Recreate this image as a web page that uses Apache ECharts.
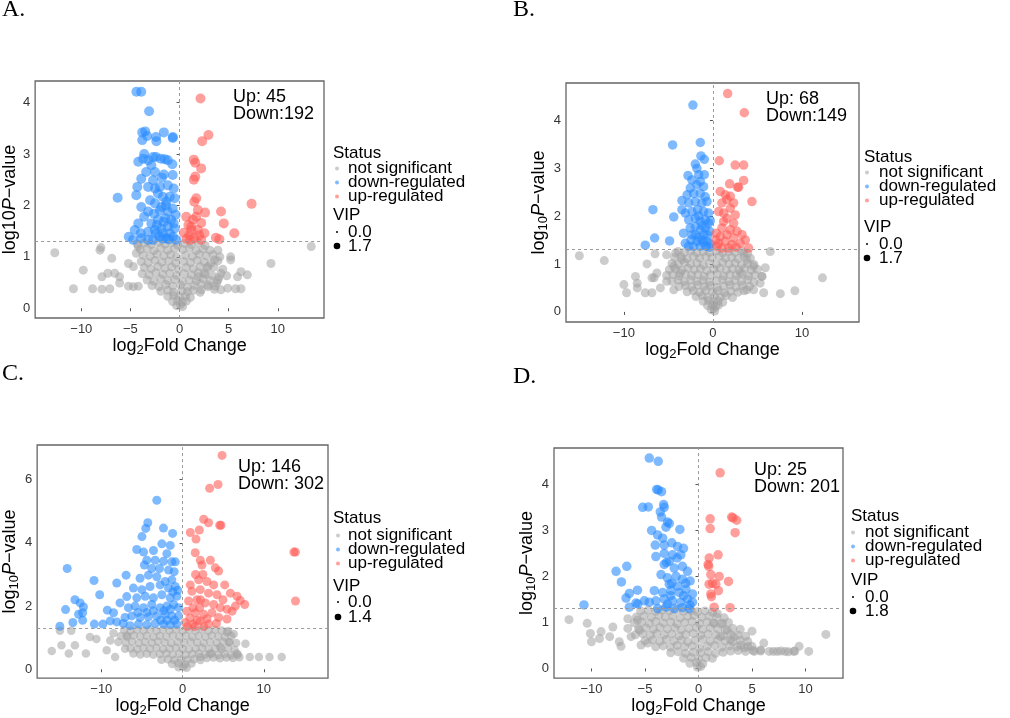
<!DOCTYPE html>
<html><head><meta charset="utf-8">
<script src="https://cdn.jsdelivr.net/npm/echarts@6/dist/echarts.min.js"></script>
<style>html,body{margin:0;padding:0;background:#fff}#c{width:1010px;height:718px}</style>
</head><body><div id="c"></div>
<script>
// ---------- data ----------
const panelLabels = ['A.', 'B.', 'C.', 'D.'];
const statusNames = ['not significant', 'down-regulated', 'up-regulated'];
const upCounts = [45, 68, 146, 25];
const downCounts = [192, 149, 302, 201];
const downSep = ['', '', ' ', ' '];
const vipLegendMin = ['0.0', '0.0', '0.0', '0.0'];
const vipLegendMax = ['1.7', '1.7', '1.4', '1.8'];
const pThreshold = 1.3;

const xTicksA = [-10, -5, 0, 5, 10];
const xTicksB = [-10, 0, 10];
const xTicksC = [-10, 0, 10];
const xTicksD = [-10, -5, 0, 5, 10];
const yTicksA = [0, 1, 2, 3, 4];
const yTicksB = [0, 1, 2, 3, 4];
const yTicksC = [0, 2, 4, 6];
const yTicksD = [0, 1, 2, 3, 4];

const xRangeA = [-14.7, 14.7], yRangeA = [-0.19, 4.42];
const xRangeB = [-16.5, 16.4], yRangeB = [-0.21, 4.77];
const xRangeC = [-17.9, 17.9], yRangeC = [-0.28, 7.1];
const xRangeD = [-13.5, 13.5], yRangeD = [-0.21, 4.79];

const grayA = [
[-12.7,1.08],[-8.0,1.18],[-8.1,1.13],[-9.8,0.74],[-10.8,0.38],[-8.85,0.38],[-7.9,0.37],[-7.1,0.38],[-6.9,0.97],[-7.3,0.68],[-6.6,0.68],[-6.1,0.61],[-7.9,0.61],[-6.1,0.49],[-5.2,0.43],[-4.7,0.42],[-4.2,0.43],[-5.2,0.87],[-4.7,0.81],[-4.2,1.2],[-4.4,1.07],[13.4,1.2],[9.3,0.87],[5.2,1.0],[5.2,0.94],[3.9,1.13],[6.25,0.71],[6.9,0.65],[5.9,0.61],[5.7,0.38],[6.25,0.38],[4.2,0.36],[4.9,0.39],[3.55,0.37],[2.9,0.42],[2.2,0.36],[2.9,0.81],[3.55,0.94],[4.2,0.68],[2.5,0.68],[1.86,0.61],[3.9,0.55],
[-4.3,1.25],[-3.6,1.27],[-2.9,1.24],[-2.2,1.28],[-1.5,1.25],[-0.8,1.27],[-0.2,1.23],[0.5,1.26],[1.2,1.24],[1.9,1.27],[2.6,1.22],
[-4.0,1.14],[-3.3,1.16],[-2.6,1.12],[-1.9,1.17],[-1.2,1.13],[-0.5,1.16],[0.3,1.14],[1.0,1.17],[1.7,1.12],[2.4,1.15],[3.1,1.13],
[-3.7,1.03],[-3.0,1.01],[-2.3,1.05],[-1.6,1.02],[-0.9,1.04],[-0.3,1.0],[0.6,1.03],[1.3,1.01],[2.0,1.05],[2.7,1.02],[3.4,1.04],[4.1,1.0],
[-3.9,0.91],[-3.2,0.89],[-2.5,0.93],[-1.8,0.9],[-1.1,0.92],[-0.4,0.88],[0.4,0.91],[1.1,0.89],[1.8,0.93],[2.5,0.9],[3.2,0.88],[3.9,0.92],
[-3.6,0.79],[-2.9,0.77],[-2.2,0.81],[-1.5,0.78],[-0.8,0.8],[-0.1,0.76],[0.7,0.79],[1.4,0.77],[2.1,0.81],[2.8,0.78],[3.5,0.8],[4.4,0.76],
[-3.8,0.67],[-3.1,0.65],[-2.4,0.69],[-1.7,0.66],[-1.0,0.68],[-0.3,0.64],[0.5,0.67],[1.2,0.65],[1.9,0.69],[2.6,0.66],[3.3,0.64],[4.0,0.6],[4.8,0.63],
[-3.3,0.55],[-2.6,0.53],[-1.9,0.57],[-1.2,0.54],[-0.5,0.56],[0.3,0.52],[1.0,0.55],[1.7,0.53],[2.4,0.57],[3.1,0.54],[3.8,0.5],
[-2.8,0.44],[-2.1,0.42],[-1.4,0.46],[-0.7,0.43],[0.1,0.45],[0.8,0.41],[1.5,0.44],[2.2,0.47],[2.9,0.45],[3.6,0.43],
[-1.9,0.33],[-1.2,0.35],[-0.6,0.31],[0.2,0.34],[0.8,0.32],[1.4,0.35],[2.1,0.31],
[-1.2,0.23],[-0.6,0.25],[0.0,0.22],[0.6,0.24],[1.1,0.21],
[-0.7,0.13],[-0.2,0.15],[0.3,0.12],[0.7,0.14],[-0.3,0.05],[0.1,0.07],[0.3,0.03]
];
const downA = [
[-4.39,4.21],[-3.9,4.21],[-3.1,3.83],[-3.8,3.42],[-3.5,3.44],[-3.3,3.35],[-1.6,3.42],[-0.68,3.33],[-0.7,3.31],[-2.4,3.33],[-2.36,3.25],[-3.8,3.27],[-3.6,3.0],[-3.7,2.91],[-4.2,2.85],[-2.7,2.94],[-2.4,2.94],[-1.9,2.91],[-1.5,2.9],[-1.2,2.88],[-0.74,2.8],[-2.87,2.78],[-3.2,2.88],[-3.4,2.65],[-2.5,2.65],[-1.6,2.6],[-0.7,2.59],[-3.9,2.52],[-2.7,2.49],[-1.8,2.54],[-4.3,2.36],[-4.4,2.2],[-6.3,2.15],[-3.2,2.36],[-2.5,2.33],[-2.0,2.36],[-1.2,2.39],[-0.6,2.33],[-2.2,2.23],[-1.7,2.17],[-1.0,2.17],[-0.5,2.14],[-1.35,2.07],[-3.0,2.1],[-2.5,2.04],[-1.85,1.97],[-3.9,1.97],[-3.2,1.88],[-2.6,1.84],[-1.2,1.88],[-0.7,1.94],[-3.6,1.78],[-4.2,1.65],[-2.87,1.65],[-2.2,1.72],[-1.45,1.75],[-0.85,1.72],[-4.56,1.52],[-5.17,1.39],[-4.73,1.33],[-3.95,1.46],[-3.2,1.49],[-2.53,1.52],[-1.86,1.55],[-1.18,1.59],[-0.5,1.55],[-2.03,1.39],[-1.35,1.36],[-0.68,1.39],[-2.7,1.33],[-1.0,1.46],[-0.34,1.33],[-1.7,1.46],[-3.2,1.33],[-3.9,1.36],[-2.3,1.62],[-1.6,1.68],[-0.4,1.82],[-2.0,1.9],[-1.4,2.0],[-1.7,1.35],[-2.4,1.45],[-1.1,1.34],[-0.6,1.65]
];
const upA = [
[2.13,4.08],[2.94,3.37],[2.3,3.25],[1.45,2.89],[1.6,2.83],[2.2,2.72],[1.6,2.56],[1.45,2.5],[1.7,2.14],[1.5,2.07],[7.33,2.03],[1.86,1.91],[2.6,1.86],[4.22,1.88],[1.7,1.78],[0.68,1.78],[1.35,1.72],[2.2,1.66],[4.5,1.65],[1.18,1.59],[1.86,1.52],[2.53,1.46],[5.57,1.46],[0.44,1.47],[1.0,1.42],[1.5,1.36],[3.7,1.37],[4.05,1.34],[2.2,1.33],[0.7,1.35],[1.2,1.52],[0.9,1.62],[2.0,1.42],[1.1,1.33]
];

const grayB = [
[-15.0,1.17],[-12.2,1.07],[-10.0,0.57],[-9.7,0.4],[-8.7,0.74],[-8.5,0.6],[-8.5,0.5],[-7.4,1.0],[-6.5,1.21],[-5.2,1.19],[-4.2,1.23],[-7.6,0.4],[-6.85,0.4],[-6.6,0.71],[-5.9,0.5],[-5.2,0.64],[-4.4,0.46],[-6.3,0.81],[-6.85,0.71],[-3.67,0.81],[-4.4,0.95],[-3.48,1.09],[6.44,1.26],[5.88,0.92],[12.3,0.71],[9.2,0.44],[7.57,0.38],[5.5,0.74],[5.3,0.6],[4.57,0.46],[3.8,0.46],[5.7,0.4],[3.07,0.81],[3.8,1.09],[4.57,0.95],[3.45,1.23],
[-3.9,1.26],[-3.2,1.24],[-2.5,1.27],[-1.8,1.23],[-1.1,1.26],[-0.4,1.24],[0.4,1.27],[1.1,1.23],[1.8,1.26],[2.5,1.24],[3.2,1.27],[3.9,1.22],
[-4.3,1.13],[-3.6,1.15],[-2.9,1.11],[-2.2,1.16],[-1.5,1.12],[-0.8,1.15],[-0.1,1.13],[0.7,1.16],[1.4,1.12],[2.1,1.14],[2.8,1.11],[3.5,1.15],[4.2,1.12],
[-4.6,1.01],[-3.9,0.99],[-3.2,1.03],[-2.5,1.0],[-1.8,1.02],[-1.1,0.98],[-0.4,1.01],[0.4,0.99],[1.1,1.03],[1.8,1.0],[2.5,1.02],[3.2,0.98],[3.9,1.01],[4.6,0.99],
[-4.9,0.88],[-4.2,0.9],[-3.5,0.87],[-2.8,0.91],[-2.1,0.88],[-1.4,0.9],[-0.7,0.86],[0.1,0.89],[0.8,0.91],[1.5,0.87],[2.2,0.9],[2.9,0.88],[3.6,0.91],[4.3,0.87],[5.0,0.89],
[-5.2,0.76],[-4.5,0.78],[-3.8,0.75],[-3.1,0.79],[-2.4,0.76],[-1.7,0.78],[-1.0,0.74],[-0.3,0.77],[0.5,0.79],[1.2,0.75],[1.9,0.78],[2.6,0.76],[3.3,0.79],[4.0,0.75],[4.7,0.77],[5.5,0.74],
[-4.6,0.64],[-3.9,0.66],[-3.2,0.63],[-2.5,0.67],[-1.8,0.64],[-1.1,0.66],[-0.4,0.62],[0.4,0.65],[1.1,0.67],[1.8,0.63],[2.5,0.66],[3.2,0.64],[3.9,0.67],[4.6,0.62],
[-3.8,0.53],[-3.1,0.55],[-2.4,0.52],[-1.7,0.56],[-1.0,0.53],[-0.3,0.55],[0.5,0.51],[1.2,0.54],[1.9,0.56],[2.6,0.52],[3.3,0.55],[4.1,0.53],
[-2.9,0.42],[-2.2,0.44],[-1.5,0.41],[-0.8,0.45],[-0.1,0.42],[0.6,0.44],[1.3,0.4],[2.0,0.43],[2.8,0.41],[3.5,0.44],
[-1.9,0.32],[-1.2,0.34],[-0.6,0.3],[0.2,0.33],[0.8,0.31],[1.5,0.34],[2.2,0.3],
[-1.1,0.22],[-0.5,0.24],[0.1,0.21],[0.6,0.23],[1.1,0.2],
[-0.6,0.13],[-0.1,0.15],[0.3,0.12],[0.6,0.14],[-0.2,0.05],[0.1,0.07],[0.2,0.02]
];
const downB = [
[-2.25,4.31],[-4.53,3.48],[-1.42,3.53],[-1.35,3.25],[-0.97,3.18],[-1.98,3.08],[-1.8,2.99],[-2.8,2.84],[-1.6,2.86],[-0.97,2.86],[-2.36,2.75],[-1.42,2.72],[-2.55,2.58],[-1.8,2.65],[-1.05,2.61],[-2.9,2.44],[-2.17,2.47],[-1.42,2.47],[-0.86,2.4],[-6.74,2.13],[-3.48,2.32],[-2.73,2.27],[-1.98,2.3],[-1.24,2.27],[-0.67,2.3],[-4.4,1.98],[-3.48,2.13],[-3.1,2.06],[-2.36,2.09],[-1.72,2.13],[-1.05,2.09],[-0.49,2.06],[-2.73,1.92],[-1.98,1.95],[-1.42,1.89],[-0.86,1.92],[-0.49,1.85],[-6.55,1.54],[-4.87,1.48],[-7.6,1.39],[-3.3,1.64],[-2.55,1.75],[-1.98,1.78],[-1.42,1.71],[-0.86,1.75],[-0.37,1.68],[-3.1,1.43],[-2.47,1.5],[-1.8,1.47],[-1.24,1.5],[-0.67,1.47],[-0.3,1.42],[-2.17,1.37],[-1.42,1.37],[-0.79,1.37],[-2.73,1.37],[-1.98,1.61],[-1.05,1.61],[-2.36,1.61],[-1.6,1.55],[-1.2,1.8],[-0.6,1.6],[-0.4,1.35],[-1.6,2.0],[-1.1,1.45],[-0.3,1.9]
];
const upB = [
[1.65,4.55],[3.52,4.15],[0.71,3.15],[2.5,3.06],[3.45,3.06],[3.45,2.74],[1.87,2.67],[2.88,2.6],[2.77,2.6],[0.82,2.51],[1.39,2.44],[1.95,2.41],[2.32,2.27],[4.38,2.3],[1.01,2.27],[1.57,2.34],[0.64,2.09],[1.2,2.06],[1.95,2.16],[2.5,2.02],[1.57,1.95],[2.32,1.85],[1.01,1.75],[1.95,1.71],[2.7,1.68],[3.26,1.61],[3.63,1.5],[0.37,1.64],[0.82,1.57],[1.57,1.61],[2.32,1.54],[3.07,1.43],[0.64,1.43],[1.39,1.47],[2.13,1.4],[4.0,1.33],[1.01,1.33],[1.76,1.33],[0.45,1.37],[2.6,1.35],[0.3,1.5],[1.2,1.88]
];

const grayC = [
[-16.1,0.58],[-15.1,1.22],[-14.9,0.76],[-14.0,0.5],[-13.25,0.76],[-11.9,0.5],[-11.4,1.02],[-10.6,0.96],[-13.7,1.22],[-9.34,0.6],[-8.3,0.39],[-8.9,0.91],[-7.9,0.86],[-7.08,0.65],[-6.05,0.5],[-6.87,1.07],[-8.5,1.14],[5.68,0.86],[7.74,0.81],[8.27,0.39],[9.4,0.39],[10.7,0.39],[12.2,0.39],[6.3,1.12],[5.47,1.17],[6.7,0.5],[4.65,0.7],[3.4,0.5],[2.18,0.39],
[-7.2,1.24],[-6.4,1.22],[-5.6,1.25],[-4.8,1.23],[-4.0,1.26],[-3.2,1.22],[-2.4,1.25],[-1.6,1.23],[-0.8,1.26],[0.0,1.22],[0.8,1.25],[1.6,1.23],[2.4,1.26],[3.2,1.22],[4.0,1.25],[4.8,1.23],[5.6,1.21],
[-7.6,1.05],[-6.8,1.03],[-6.0,1.07],[-5.2,1.04],[-4.4,1.06],[-3.6,1.02],[-2.8,1.05],[-2.0,1.03],[-1.2,1.07],[-0.4,1.04],[0.4,1.06],[1.2,1.02],[2.0,1.05],[2.8,1.03],[3.6,1.07],[4.4,1.04],[5.2,1.02],[6.0,1.05],
[-7.0,0.85],[-6.2,0.87],[-5.4,0.83],[-4.6,0.86],[-3.8,0.84],[-3.0,0.87],[-2.2,0.85],[-1.4,0.83],[-0.6,0.86],[0.2,0.84],[1.0,0.87],[1.8,0.85],[2.6,0.83],[3.4,0.86],[4.2,0.84],[5.0,0.87],[5.8,0.85],[6.6,0.83],
[-6.4,0.66],[-5.6,0.64],[-4.8,0.67],[-4.0,0.65],[-3.2,0.68],[-2.4,0.64],[-1.6,0.66],[-0.8,0.68],[0.0,0.65],[0.8,0.63],[1.6,0.66],[2.4,0.68],[3.2,0.64],[4.0,0.66],[4.8,0.63],[5.6,0.67],[6.4,0.62],
[-5.2,0.47],[-4.4,0.49],[-3.6,0.46],[-2.8,0.48],[-2.0,0.5],[-1.2,0.47],[-0.4,0.49],[0.4,0.46],[1.2,0.48],[2.0,0.5],[2.8,0.47],[3.6,0.49],[4.4,0.45],[5.2,0.48],[6.0,0.44],[6.8,0.46],
[3.0,0.36],[3.8,0.37],[4.6,0.35],[5.4,0.37],[6.2,0.36],[7.0,0.38],
[-2.6,0.3],[-1.8,0.32],[-1.0,0.29],[-0.2,0.31],[0.6,0.3],[1.4,0.32],[2.2,0.29],
[-1.3,0.17],[-0.5,0.19],[0.3,0.16],[1.1,0.18],[-0.5,0.06],[0.1,0.08],[0.5,0.05]
];
const downC = [
[-3.17,5.35],[-4.28,4.64],[-4.53,4.46],[-2.35,4.47],[-1.23,4.3],[-5.0,4.2],[-5.64,3.79],[-4.8,3.71],[-2.55,3.97],[-1.52,3.92],[-3.58,3.76],[-1.93,3.66],[-4.4,3.45],[-3.37,3.45],[-2.35,3.42],[-1.32,3.4],[-0.9,3.4],[-14.2,3.19],[-4.7,3.3],[-3.79,3.19],[-2.84,3.19],[-1.73,3.14],[-1.03,3.09],[-6.95,2.98],[-10.9,2.81],[-8.1,2.73],[-10.2,2.36],[-5.23,2.88],[-4.2,2.98],[-3.17,2.93],[-2.14,2.78],[-1.32,2.83],[-6.05,2.57],[-5.0,2.52],[-4.0,2.62],[-2.76,2.67],[-1.73,2.57],[-0.9,2.62],[-13.25,2.2],[-12.6,2.1],[-12.2,1.97],[-12.3,1.79],[-14.4,1.89],[-12.8,1.74],[-12.3,1.55],[-13.5,1.48],[-15.1,1.36],[-6.87,2.3],[-7.7,2.1],[-9.26,1.87],[-8.5,1.79],[-9.8,1.43],[-8.9,1.53],[-8.1,1.5],[-5.64,2.26],[-4.6,2.31],[-3.58,2.26],[-2.55,2.36],[-1.52,2.26],[-0.7,2.31],[-6.67,1.95],[-5.84,2.0],[-4.8,1.95],[-3.79,2.05],[-2.76,1.95],[-1.93,2.0],[-1.1,2.05],[-7.08,1.64],[-6.26,1.69],[-5.23,1.64],[-4.2,1.66],[-3.17,1.69],[-2.14,1.74],[-1.32,1.69],[-0.49,1.69],[-6.46,1.38],[-5.43,1.43],[-4.4,1.41],[-3.37,1.45],[-2.35,1.43],[-1.52,1.41],[-0.7,1.43],[-10.86,1.43],[-7.3,1.45],[-2.7,1.55],[-1.9,1.55],[-1.0,1.55],[-3.6,1.85],[-2.3,1.85],[-1.5,1.9],[-0.5,1.95],[-5.5,1.8],[-4.4,1.8],[-0.6,2.5],[-1.2,2.45]
];
const upC = [
[4.86,6.77],[4.36,5.85],[3.33,5.73],[2.6,4.75],[3.2,4.64],[4.57,4.56],[4.73,4.56],[0.95,4.33],[2.06,4.41],[1.65,4.12],[13.7,3.71],[13.9,3.71],[1.56,3.69],[2.18,3.45],[3.42,3.45],[2.39,3.3],[4.03,3.21],[4.44,3.11],[0.95,2.67],[1.98,2.83],[3.0,2.78],[3.83,2.67],[5.19,2.67],[13.9,2.16],[5.88,2.41],[6.7,2.31],[7.1,2.18],[7.65,2.05],[6.5,2.0],[6.1,1.84],[1.15,2.47],[2.18,2.52],[3.2,2.41],[4.24,2.36],[4.98,2.2],[0.74,2.16],[1.77,2.2],[2.8,2.1],[3.83,2.05],[4.65,1.95],[5.47,1.9],[0.53,1.84],[1.56,1.79],[2.6,1.74],[3.62,1.79],[4.44,1.64],[5.47,1.59],[0.33,1.48],[1.28,1.43],[2.18,1.53],[3.2,1.43],[4.16,1.45],[2.5,3.0],[1.6,3.0],[2.2,2.2],[1.3,1.95],[2.1,1.95],[3.0,1.6],[1.8,1.55],[0.9,1.62],[2.6,1.35],[1.5,1.35],[0.6,1.35]
];

const grayD = [
[-12.1,1.06],[-10.4,0.98],[-10.1,0.76],[-10.0,0.58],[-9.25,0.65],[-9.1,0.8],[-8.3,0.69],[-8.0,0.9],[-7.4,0.58],[-6.6,1.08],[-6.6,0.87],[-6.3,0.69],[-5.7,1.05],[-5.5,0.83],[-5.37,0.51],[-4.75,0.55],[-7.24,0.48],[11.9,0.74],[5.0,0.81],[6.1,0.55],[6.6,0.37],[7.36,0.37],[8.1,0.37],[8.9,0.37],[9.4,0.48],[10.3,0.37],[5.2,0.37],[5.8,0.4],[3.3,0.69],[3.95,0.51],[4.6,0.48],[2.24,0.98],[1.77,1.19],[2.7,0.83],[3.0,0.62],[2.05,0.69],[1.46,0.98],
[-5.4,1.25],[-4.7,1.27],[-4.0,1.24],[-3.4,1.27],[-2.7,1.25],[-2.0,1.28],[-1.4,1.24],[-0.7,1.26],[-0.1,1.23],[0.6,1.25],[1.3,1.22],
[-5.8,1.12],[-5.1,1.14],[-4.4,1.11],[-3.7,1.15],[-3.1,1.12],[-2.4,1.14],[-1.7,1.1],[-1.0,1.13],[-0.4,1.15],[0.3,1.11],[1.0,1.14],[1.7,1.12],[2.4,1.1],
[-6.0,0.99],[-5.3,1.01],[-4.6,0.98],[-4.0,1.02],[-3.3,0.99],[-2.6,1.01],[-2.0,0.97],[-1.3,1.0],[-0.6,1.02],[0.1,0.98],[0.8,1.01],[1.4,0.99],[2.1,0.97],[2.8,1.0],
[-5.6,0.86],[-4.9,0.88],[-4.2,0.85],[-3.6,0.89],[-2.9,0.86],[-2.2,0.88],[-1.6,0.84],[-0.9,0.87],[-0.2,0.89],[0.4,0.85],[1.1,0.88],[1.8,0.86],[2.5,0.84],[3.2,0.87],[3.9,0.85],
[-5.9,0.73],[-5.2,0.75],[-4.5,0.72],[-3.9,0.76],[-3.2,0.73],[-2.5,0.75],[-1.8,0.71],[-1.2,0.74],[-0.5,0.76],[0.2,0.72],[0.9,0.75],[1.6,0.73],[2.3,0.71],[3.0,0.74],[3.7,0.72],[4.4,0.7],
[-5.0,0.6],[-4.3,0.62],[-3.6,0.59],[-3.0,0.63],[-2.3,0.6],[-1.6,0.62],[-1.0,0.58],[-0.3,0.61],[0.4,0.63],[1.1,0.59],[1.8,0.62],[2.5,0.6],[3.2,0.58],[3.9,0.61],[4.6,0.59],
[-4.0,0.47],[-3.3,0.49],[-2.6,0.46],[-2.0,0.5],[-1.3,0.47],[-0.6,0.49],[0.1,0.45],[0.8,0.48],[1.5,0.5],[2.2,0.46],[2.9,0.49],[3.6,0.47],[4.3,0.45],[5.0,0.48],
[3.0,0.38],[3.7,0.39],[4.4,0.37],[5.1,0.39],[5.8,0.38],[7.0,0.37],[7.7,0.38],[8.4,0.36],[9.0,0.38],
[-2.6,0.34],[-1.9,0.36],[-1.2,0.33],[-0.5,0.35],[0.2,0.34],[0.9,0.36],[1.6,0.33],[2.3,0.35],
[-1.4,0.22],[-0.7,0.24],[0.0,0.21],[0.7,0.23],[1.3,0.22],
[-0.8,0.11],[-0.2,0.13],[0.4,0.1],[-0.1,0.03],[0.2,0.04]
];
const downD = [
[-4.6,4.57],[-3.76,4.5],[-3.91,3.89],[-3.76,3.88],[-3.45,3.84],[-5.22,3.5],[-4.69,3.51],[-3.26,3.56],[-3.2,3.5],[-3.57,3.4],[-3.45,3.29],[-2.89,3.18],[-2.73,3.15],[-4.38,3.0],[-3.04,3.07],[-1.74,3.02],[-3.82,2.9],[-3.35,2.83],[-4.04,2.68],[-3.2,2.68],[-2.5,2.73],[-1.96,2.65],[-1.4,2.61],[-3.98,2.43],[-3.2,2.5],[-2.42,2.47],[-1.65,2.47],[-2.73,2.33],[-7.7,2.11],[-6.7,2.22],[-7.2,1.88],[-3.2,2.26],[-2.27,2.18],[-1.5,2.22],[-1.03,2.11],[-0.78,1.9],[-3.5,2.04],[-2.9,1.97],[-2.1,2.0],[-1.5,1.94],[-2.73,1.83],[-1.96,1.79],[-6.46,1.63],[-5.7,1.7],[-6.77,1.53],[-6.46,1.33],[-5.68,1.4],[-5.06,1.47],[-4.6,1.44],[-5.84,1.42],[-10.7,1.38],[-4.13,1.69],[-3.35,1.65],[-2.58,1.69],[-1.8,1.65],[-1.18,1.72],[-0.56,1.62],[-3.98,1.47],[-3.2,1.51],[-2.42,1.47],[-1.65,1.44],[-1.03,1.51],[-0.56,1.44],[-3.82,1.3],[-3.04,1.33],[-2.27,1.3],[-1.5,1.32],[-0.87,1.3],[-2.5,1.85],[-1.2,1.85],[-3.0,2.3],[-2.0,2.4],[-2.6,1.58],[-1.4,1.58],[-0.8,1.38],[-2.9,1.4]
];
const upD = [
[2.02,4.25],[1.09,3.25],[1.09,3.04],[3.1,3.29],[3.23,3.27],[3.57,3.22],[3.42,2.95],[1.0,2.4],[1.83,2.47],[0.9,2.26],[1.15,2.04],[1.93,2.0],[2.8,1.89],[0.99,1.83],[1.61,1.83],[1.86,1.69],[1.15,1.62],[1.21,1.56],[1.46,1.33],[2.95,1.32],[0.95,2.22],[1.3,1.85]
];

// ---------- layout / style ----------
const FONT = '"Liberation Sans", Arial, Helvetica, sans-serif';
const panels = [
  { gray: grayA, down: downA, up: upA, xr: xRangeA, yr: yRangeA, xt: xTicksA, yt: yTicksA, sub: false, yGap: 11,
    grid: { left: 33, top: 81, width: 291, height: 237 }, label: [2, 10], ud: [233, 89], leg: [333, 153, 168, 215, 232, 246], legDotX: 337, legTextX: 348, size: [9, 10] },
  { gray: grayB, down: downB, up: upB, xr: xRangeB, yr: yRangeB, xt: xTicksB, yt: yTicksB, sub: true, yGap: 6,
    grid: { left: 566, top: 83, width: 293, height: 239 }, label: [513, 10], ud: [766, 91], leg: [864, 157, 172, 227, 244, 258], legDotX: 867, legTextX: 879, size: [9, 9.5] },
  { gray: grayC, down: downC, up: upC, xr: xRangeC, yr: yRangeC, xt: xTicksC, yt: yTicksC, sub: true, yGap: 11,
    grid: { left: 36, top: 445, width: 292, height: 237 }, label: [2, 374], ud: [238, 459], leg: [333, 518, 535, 586, 602, 617], legDotX: 338, legTextX: 348, size: [8.5, 9] },
  { gray: grayD, down: downD, up: upD, xr: xRangeD, yr: yRangeD, xt: xTicksD, yt: yTicksD, sub: true, yGap: 6,
    grid: { left: 554, top: 448, width: 289, height: 234 }, label: [513, 377], ud: [754, 462], leg: [851, 516, 532, 580, 597, 611], legDotX: 853, legTextX: 865, size: [9, 9.5] }
];

const minus = v => String(v).replace('-', '\u2212');
const richName = {
  t: { fontSize: 18, fontFamily: FONT, color: '#000', lineHeight: 22 },
  i: { fontSize: 18, fontFamily: FONT, color: '#000', fontStyle: 'italic', lineHeight: 22 },
  s: { fontSize: 13, fontFamily: FONT, color: '#000', lineHeight: 12, verticalAlign: 'bottom' }
};

const grids = [], xAxes = [], yAxes = [], series = [], legends = [], graphics = [];
panels.forEach((p, i) => {
  grids.push(Object.assign({ show: true, borderColor: '#666', borderWidth: 1.3, backgroundColor: 'transparent' }, p.grid));
  xAxes.push({
    type: 'value', gridIndex: i, min: p.xr[0], max: p.xr[1],
    name: '{t|log}{s|2}{t|Fold Change}', nameLocation: 'middle', nameGap: 5,
    nameTextStyle: { rich: richName },
    splitLine: { show: false }, axisLine: { show: false },
    axisTick: { show: true, length: 3, customValues: p.xt, lineStyle: { color: '#555' } },
    axisLabel: { customValues: p.xt, formatter: minus, color: '#333', fontSize: 13, fontFamily: FONT, margin: 5 }
  });
  yAxes.push({
    type: 'value', gridIndex: i, min: p.yr[0], max: p.yr[1],
    name: p.sub ? '{t|log}{s|10}{i|P}{t|\u2212value}' : '{t|log10}{i|P}{t|\u2212value}',
    nameLocation: 'middle', nameGap: p.yGap, nameTextStyle: { rich: richName },
    splitLine: { show: false }, axisLine: { show: false },
    axisTick: { show: true, length: 3, customValues: p.yt, lineStyle: { color: '#555' } },
    axisLabel: { customValues: p.yt, formatter: minus, color: '#333', fontSize: 13, fontFamily: FONT, margin: 5 }
  });
  series.push({
    name: statusNames[0], type: 'scatter', xAxisIndex: i, yAxisIndex: i, data: p.gray,
    symbolSize: p.size[0], itemStyle: { color: '#a2a2a2', opacity: 0.55 }, silent: true,
    markLine: {
      silent: true, symbol: ['none', 'none'], label: { show: false }, animation: false,
      lineStyle: { color: '#9a9a9a', type: [3, 3], width: 1 },
      data: [{ xAxis: 0 }, { yAxis: pThreshold }]
    }
  });
  series.push({
    name: statusNames[1], type: 'scatter', xAxisIndex: i, yAxisIndex: i, data: p.down,
    symbolSize: p.size[1], itemStyle: { color: '#2a8cff', opacity: 0.6 }, silent: true
  });
  series.push({
    name: statusNames[2], type: 'scatter', xAxisIndex: i, yAxisIndex: i, data: p.up,
    symbolSize: p.size[1], itemStyle: { color: '#ff5a55', opacity: 0.58 }, silent: true
  });
  const L = p.leg;
  legends.push({
    data: statusNames, orient: 'vertical', left: p.legDotX - 2, top: L[2] - 8,
    icon: 'circle', itemWidth: 4, itemHeight: 4, itemGap: -3, padding: 0, selectedMode: false,
    textStyle: { fontSize: 17, fontFamily: FONT, color: '#000', padding: [0, 0, 0, p.legTextX - (p.legDotX + 2) - 5] }
  });
  graphics.push(
    { type: 'text', left: p.label[0], top: p.label[1] - 12, style: { text: panelLabels[i], font: '24px "Liberation Serif", "Times New Roman", serif', fill: '#000' } },
    { type: 'text', x: p.ud[0], y: p.ud[1], style: { text: 'Up: ' + upCounts[i] + '\nDown:' + downSep[i] + downCounts[i], font: '18px ' + FONT, lineHeight: 17, fill: '#000', verticalAlign: 'top' } },
    { type: 'text', x: L[0], y: L[1], style: { text: 'Status', font: '17px ' + FONT, fill: '#000', verticalAlign: 'middle' } },
    { type: 'text', x: L[0], y: L[3], style: { text: 'VIP', font: '17px ' + FONT, fill: '#000', verticalAlign: 'middle' } },
    { type: 'circle', shape: { cx: p.legDotX, cy: L[4], r: 1 }, style: { fill: '#000' } },
    { type: 'text', x: p.legTextX, y: L[4], style: { text: vipLegendMin[i], font: '17px ' + FONT, fill: '#000', verticalAlign: 'middle' } },
    { type: 'circle', shape: { cx: p.legDotX, cy: L[5], r: 3.3 }, style: { fill: '#000' } },
    { type: 'text', x: p.legTextX, y: L[5], style: { text: vipLegendMax[i], font: '17px ' + FONT, fill: '#000', verticalAlign: 'middle' } }
  );
});

const chart = echarts.init(document.getElementById('c'), null, { renderer: 'canvas' });
chart.setOption({
  backgroundColor: '#fff', animation: false,
  grid: grids, xAxis: xAxes, yAxis: yAxes, series: series, legend: legends,
  graphic: { elements: graphics }
});
</script></body></html>
